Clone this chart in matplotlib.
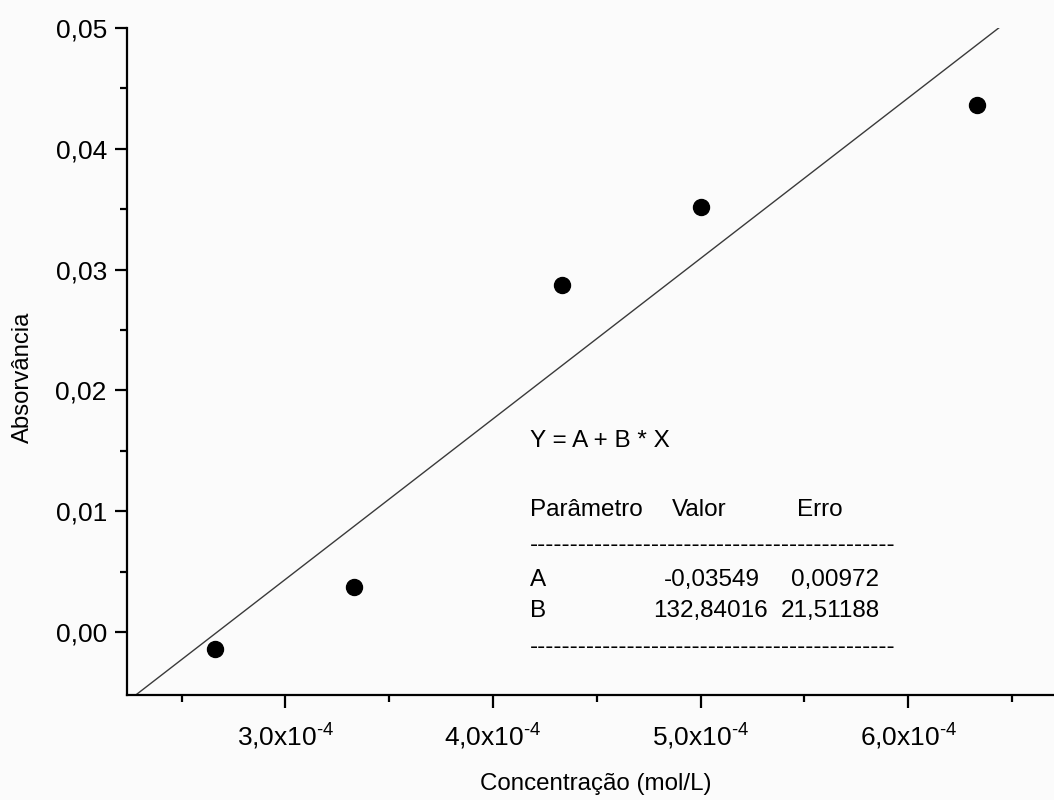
import numpy as np
import matplotlib
matplotlib.use('Agg')
import matplotlib.pyplot as plt

plt.rcParams['font.family'] = ['Liberation Sans', 'DejaVu Sans']
plt.rcParams['mathtext.fontset'] = 'custom'
plt.rcParams['mathtext.rm'] = 'Liberation Sans'
plt.rcParams['mathtext.it'] = 'Liberation Sans'

# dados
conc = [2.66e-4, 3.33e-4, 4.33e-4, 5.00e-4, 6.33e-4]
absorb = [-0.0014, 0.0037, 0.0287, 0.0352, 0.0436]

# ajuste linear Y = A + B*X
A = -0.03549
B = 132.84016
A_err = 0.00972
B_err = 21.51188

xticks = [3.0e-4, 4.0e-4, 5.0e-4, 6.0e-4]
xticklabels = ['3,0x10$^{\u20104}$', '4,0x10$^{\u20104}$', '5,0x10$^{\u20104}$', '6,0x10$^{\u20104}$']
xminor = [2.5e-4, 3.5e-4, 4.5e-4, 5.5e-4, 6.5e-4]
yticks = [0.00, 0.01, 0.02, 0.03, 0.04, 0.05]
yticklabels = ['0,00', '0,01', '0,02', '0,03', '0,04', '0,05']
yminor = [0.005, 0.015, 0.025, 0.035, 0.045]

bg = '#fbfbfb'
fig = plt.figure(figsize=(10.54, 8), dpi=100, facecolor=bg)
ax = fig.add_axes([127 / 1054, 105 / 800, 927 / 1054, 667 / 800], facecolor=bg)

xlim = (2.2365e-4, 6.702e-4)
ylim = (-0.00522, 0.05)

xs = np.linspace(xlim[0], xlim[1], 200)
ax.plot(xs, A + B * xs, color='#3a3a3a', lw=1.0)
ax.plot(conc, absorb, 'o', color='black', markersize=11.5)

ax.set_xlim(*xlim)
ax.set_ylim(*ylim)

for s in ['top', 'right']:
    ax.spines[s].set_visible(False)
for s in ['left', 'bottom']:
    ax.spines[s].set_linewidth(1.6)

ax.set_xticks(xticks)
ax.set_xticklabels(xticklabels)
ax.set_xticks(xminor, minor=True)
ax.set_yticks(yticks)
ax.set_yticklabels(yticklabels)
ax.set_yticks(yminor, minor=True)
ax.tick_params(which='major', direction='out', length=9, width=1.6, labelsize=19, pad=5.5)
ax.tick_params(which='minor', direction='out', length=5, width=1.6)
ax.tick_params(axis='x', which='major', pad=10)

ax.set_xlabel('Concentração (mol/L)', fontsize=17.4)
ax.set_ylabel('Absorvância', fontsize=17.2)
ax.xaxis.set_label_coords(0.506, -0.117)
ax.yaxis.set_label_coords(-0.100, 0.476)

fs = 17.5
tr = ax.transAxes
ax.text(0.4347, 0.3723, 'Y = A + B * X', fontsize=fs, transform=tr, va='baseline')
ax.text(0.4347, 0.2684, 'Parâmetro', fontsize=fs, transform=tr, va='baseline')
ax.text(0.5876, 0.2684, 'Valor', fontsize=fs, transform=tr, va='baseline')
ax.text(0.7225, 0.2684, 'Erro', fontsize=fs, transform=tr, va='baseline')
ax.text(0.4347, 0.2165, '-' * 45, fontsize=fs, transform=tr, va='baseline')
ax.text(0.4347, 0.1639, 'A', fontsize=fs, transform=tr, va='baseline')
ax.text(0.6829, 0.1639, f'{A:.5f}'.replace('.', ','), fontsize=fs, transform=tr,
        va='baseline', ha='right')
ax.text(0.7160, 0.1639, f'{A_err:.5f}'.replace('.', ','), fontsize=fs, transform=tr,
        va='baseline')
ax.text(0.4347, 0.1165, 'B', fontsize=fs, transform=tr, va='baseline')
ax.text(0.6917, 0.1165, f'{B:.5f}'.replace('.', ','), fontsize=fs, transform=tr,
        va='baseline', ha='right')
ax.text(0.7055, 0.1165, f'{B_err:.5f}'.replace('.', ','), fontsize=fs, transform=tr,
        va='baseline')
ax.text(0.4347, 0.0625, '-' * 45, fontsize=fs, transform=tr, va='baseline')

plt.savefig('out.png', dpi=100, facecolor=bg)
